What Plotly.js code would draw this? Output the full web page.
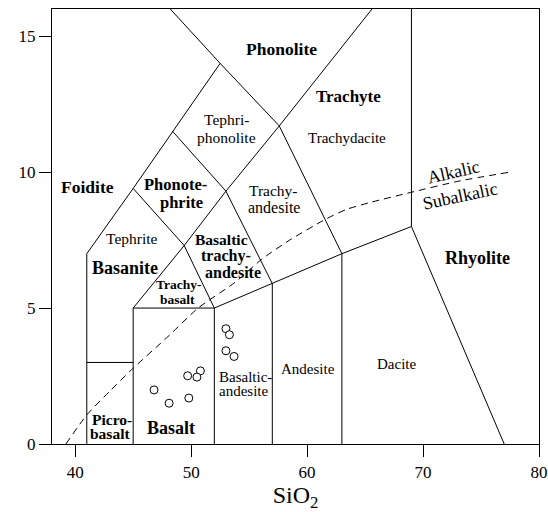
<!DOCTYPE html>
<html>
<head>
<meta charset="utf-8">
<script src="https://cdn.plot.ly/plotly-3.0.1.min.js"></script>
<style>
  html, body { margin: 0; padding: 0; background: #fff; }
  #tas { width: 548px; height: 512px; }
</style>
</head>
<body>
<div id="tas"></div>
<script>
// Total alkali vs silica (TAS) classification, wt%.

// Field boundaries: each polyline is a list of SiO2 values and matching Na2O+K2O values.
const boundarySiO2 = [
  [41, 41, 45, 48.4, 52.5, 48.2],        // foidite edge
  [41, 45],                              // picrobasalt roof
  [45, 45, 52, 52],                      // basalt box
  [52, 57, 63, 69],                      // subalkaline roof
  [57, 57],
  [63, 63],
  [77, 69, 69],                          // rhyolite edge
  [45, 49.4, 52],                        // trachybasalt roof
  [45, 49.4, 53, 57],
  [48.4, 53, 57.6, 63],
  [52.5, 57.6, 65.6]                     // phonolite / trachyte
];
const boundaryAlkali = [
  [0, 7, 9.4, 11.5, 14, 16],
  [3, 3],
  [0, 5, 5, 0],
  [5, 5.9, 7, 8],
  [0, 5.9],
  [0, 7],
  [0, 8, 16],
  [5, 7.3, 5],
  [9.4, 7.3, 9.3, 5.9],
  [11.5, 9.3, 11.7, 7],
  [14, 11.7, 16]
];

// Alkalic / subalkalic dividing curve
const dividerSiO2   = [39.2, 41, 43, 45, 48, 50.6, 53.8, 56.1, 58.5, 61.6, 63.4, 65.4, 68.9, 73.2, 77.5];
const dividerAlkali = [0, 1.07, 1.95, 2.79, 3.95, 5.0, 5.95, 6.8, 7.5, 8.27, 8.63, 8.88, 9.25, 9.68, 10.0];

// Samples
const sampleSiO2   = [53.0, 53.3, 53.0, 53.7, 50.8, 50.5, 49.7, 46.8, 49.8, 48.1];
const sampleAlkali = [4.24, 4.02, 3.43, 3.22, 2.69, 2.46, 2.51, 1.99, 1.69, 1.50];

// Axis ticks
const xTicks = [40, 50, 60, 70, 80];
const yTicks = [0, 5, 10, 15];

// Field names, one entry per text line
const fieldLabels = [
  { t: 'Phonolite',    x: 57.77, y: 14.54, s: 17.5, b: true },
  { t: 'Trachyte',     x: 63.57, y: 12.78, s: 17,   b: true },
  { t: 'Tephri-',      x: 53.03, y: 11.93, s: 15.5 },
  { t: 'phonolite',    x: 53.03, y: 11.27, s: 15.5 },
  { t: 'Trachydacite', x: 63.43, y: 11.24, s: 15 },
  { t: 'Foidite',      x: 41.02, y: 9.44,  s: 17.5, b: true },
  { t: 'Phonote-',     x: 48.67, y: 9.56,  s: 16.5, b: true },
  { t: 'phrite',       x: 49.21, y: 8.88,  s: 16.5, b: true },
  { t: 'Tephrite',     x: 44.9,  y: 7.55,  s: 15.5 },
  { t: 'Basanite',     x: 44.32, y: 6.48,  s: 18,   b: true },
  { t: 'Basaltic',     x: 52.62, y: 7.53,  s: 15.5, b: true },
  { t: 'trachy-',      x: 53.03, y: 6.91,  s: 16,   b: true },
  { t: 'andesite',     x: 53.63, y: 6.32,  s: 16,   b: true },
  { t: 'Trachy-',      x: 48.96, y: 5.85,  s: 13.5, b: true },
  { t: 'basalt',       x: 48.78, y: 5.33,  s: 13.5, b: true },
  { t: 'Trachy-',      x: 57.06, y: 9.31,  s: 15.5 },
  { t: 'andesite',     x: 57.12, y: 8.70,  s: 16 },
  { t: 'Picro-',       x: 43.17, y: 0.9,   s: 15.5, b: true },
  { t: 'basalt',       x: 43.03, y: 0.37,  s: 15.5, b: true },
  { t: 'Basalt',       x: 48.3,  y: 0.6,   s: 18,   b: true },
  { t: 'Basaltic-',    x: 54.66, y: 2.47,  s: 15 },
  { t: 'andesite',     x: 54.52, y: 1.95,  s: 15 },
  { t: 'Andesite',     x: 60.12, y: 2.76,  s: 15 },
  { t: 'Dacite',       x: 67.71, y: 2.94,  s: 15 },
  { t: 'Rhyolite',     x: 74.73, y: 6.85,  s: 18,   b: true },
  { t: 'Alkalic',      x: 72.62, y: 9.99,  s: 18,   a: -13 },
  { t: 'Subalkalic',   x: 73.2,  y: 9.13,  s: 18,   a: -12 }
];

const serif = '"Liberation Serif", "Times New Roman", serif';

// Join the boundary polylines into one trace, broken by gaps
const lineX = [], lineY = [];
boundarySiO2.forEach((xs, i) => {
  xs.forEach((v, j) => { lineX.push(v); lineY.push(boundaryAlkali[i][j]); });
  lineX.push(null); lineY.push(null);
});

const traces = [
  {
    x: lineX, y: lineY, type: 'scatter', mode: 'lines',
    line: { color: '#000', width: 1 }, connectgaps: false,
    hoverinfo: 'skip', showlegend: false
  },
  {
    x: dividerSiO2, y: dividerAlkali, type: 'scatter', mode: 'lines',
    line: { color: '#000', width: 1, dash: '7px,5px', shape: 'spline', smoothing: 0.6 },
    hoverinfo: 'skip', showlegend: false
  },
  {
    x: sampleSiO2, y: sampleAlkali, type: 'scatter', mode: 'markers',
    marker: { symbol: 'circle', size: 8, color: '#fff', line: { color: '#000', width: 1 } },
    showlegend: false
  }
];

const annotations = fieldLabels.map(L => ({
  x: L.x, y: L.y, xref: 'x', yref: 'y',
  text: L.b ? '<b>' + L.t + '</b>' : L.t,
  showarrow: false, textangle: L.a || 0,
  xanchor: 'center', yanchor: 'middle',
  font: { family: serif, size: L.s, color: '#000' }
}));

const layout = {
  width: 548, height: 512,
  margin: { l: 52, r: 9, t: 9, b: 68 },
  paper_bgcolor: '#fff', plot_bgcolor: '#fff',
  font: { family: serif, color: '#000' },
  showlegend: false,
  xaxis: {
    range: [38, 80], tickvals: xTicks, ticktext: xTicks.map(String),
    showgrid: false, zeroline: false,
    showline: true, linecolor: '#000', linewidth: 1.2, mirror: true,
    ticks: 'outside', ticklen: 12, tickwidth: 1, tickcolor: '#000',
    tickfont: { family: serif, size: 17, color: '#000' },
    title: { text: 'SiO<sub>2</sub>', font: { family: serif, size: 24, color: '#000' }, standoff: 2 },
    automargin: false
  },
  yaxis: {
    range: [0, 16], tickvals: yTicks, ticktext: yTicks.map(String),
    showgrid: false, zeroline: false,
    showline: true, linecolor: '#000', linewidth: 1.2, mirror: true,
    ticks: 'outside', ticklen: 12, tickwidth: 1, tickcolor: '#000',
    tickfont: { family: serif, size: 17, color: '#000' },
    automargin: false
  },
  annotations: annotations
};

Plotly.newPlot('tas', traces, layout, { displayModeBar: false, staticPlot: true });
</script>
</body>
</html>
